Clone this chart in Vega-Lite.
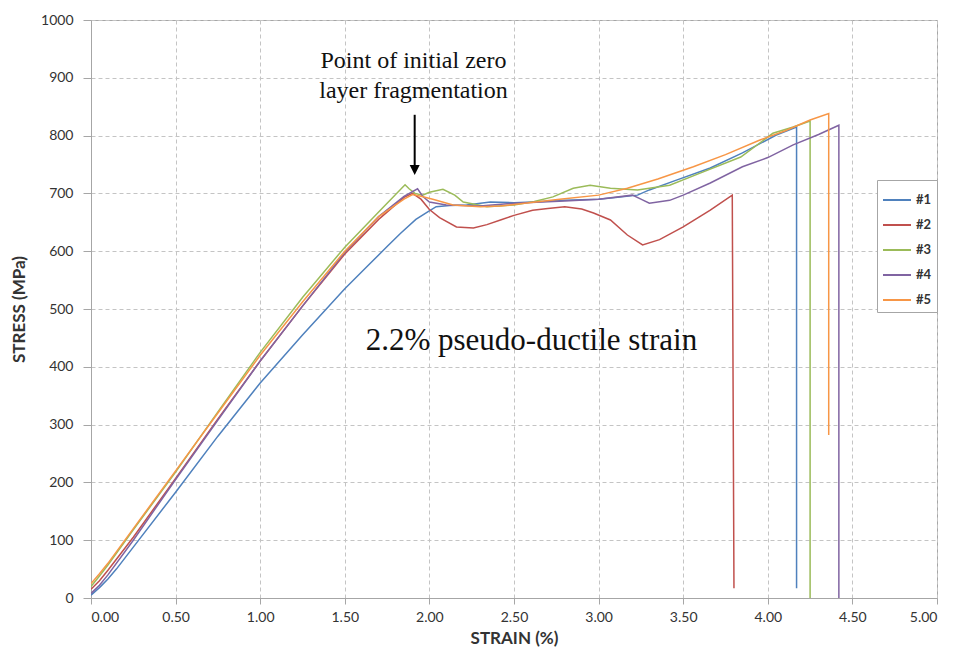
{
  "$schema": "https://vega.github.io/schema/vega-lite/v6.json",
  "width": 846,
  "height": 578,
  "autosize": {"type": "none"},
  "padding": {"left": 91, "top": 20, "right": 20, "bottom": 55},
  "background": "white",
  "config": {
    "view": {"stroke": "#a6a6a6", "strokeWidth": 1},
    "axis": {
      "labelFont": "Lato",
      "labelFontSize": 14,
      "labelColor": "#333333",
      "titleFont": "Lato",
      "titleFontSize": 17,
      "titleFontWeight": "bold",
      "titleColor": "#333333",
      "domainColor": "#a6a6a6",
      "tickColor": "#a6a6a6",
      "gridColor": "#c4c4c4",
      "gridDash": [4, 3],
      "gridWidth": 1
    }
  },
  "datasets": {
    "curves": [
      {"s":"#1","i":0,"x":0,"y":5},{"s":"#1","i":1,"x":0.05,"y":18},{"s":"#1","i":2,"x":0.1,"y":33},{"s":"#1","i":3,"x":0.15,"y":50},{"s":"#1","i":4,"x":0.25,"y":88},{"s":"#1","i":5,"x":0.5,"y":183},{"s":"#1","i":6,"x":0.75,"y":280},{"s":"#1","i":7,"x":1.0,"y":372},{"s":"#1","i":8,"x":1.25,"y":455},{"s":"#1","i":9,"x":1.5,"y":535},{"s":"#1","i":10,"x":1.63,"y":573},{"s":"#1","i":11,"x":1.75,"y":608},{"s":"#1","i":12,"x":1.83,"y":631},{"s":"#1","i":13,"x":1.92,"y":655},{"s":"#1","i":14,"x":1.99,"y":668},{"s":"#1","i":15,"x":2.04,"y":677},{"s":"#1","i":16,"x":2.12,"y":679},{"s":"#1","i":17,"x":2.22,"y":680},{"s":"#1","i":18,"x":2.36,"y":685},{"s":"#1","i":19,"x":2.5,"y":684},{"s":"#1","i":20,"x":2.61,"y":685},{"s":"#1","i":21,"x":2.8,"y":688},{"s":"#1","i":22,"x":3.0,"y":690},{"s":"#1","i":23,"x":3.1,"y":693},{"s":"#1","i":24,"x":3.23,"y":697},{"s":"#1","i":25,"x":3.3,"y":706},{"s":"#1","i":26,"x":3.46,"y":723},{"s":"#1","i":27,"x":3.66,"y":744},{"s":"#1","i":28,"x":3.85,"y":770},{"s":"#1","i":29,"x":4.05,"y":801},{"s":"#1","i":30,"x":4.17,"y":815},{"s":"#1","i":31,"x":4.17,"y":17},
      {"s":"#2","i":0,"x":0,"y":15},{"s":"#2","i":1,"x":0.05,"y":30},{"s":"#2","i":2,"x":0.1,"y":48},{"s":"#2","i":3,"x":0.25,"y":105},{"s":"#2","i":4,"x":0.5,"y":207},{"s":"#2","i":5,"x":0.75,"y":310},{"s":"#2","i":6,"x":1.0,"y":410},{"s":"#2","i":7,"x":1.25,"y":505},{"s":"#2","i":8,"x":1.5,"y":595},{"s":"#2","i":9,"x":1.7,"y":655},{"s":"#2","i":10,"x":1.85,"y":693},{"s":"#2","i":11,"x":1.9,"y":700},{"s":"#2","i":12,"x":1.95,"y":690},{"s":"#2","i":13,"x":2.0,"y":672},{"s":"#2","i":14,"x":2.06,"y":658},{"s":"#2","i":15,"x":2.16,"y":642},{"s":"#2","i":16,"x":2.26,"y":640},{"s":"#2","i":17,"x":2.34,"y":646},{"s":"#2","i":18,"x":2.42,"y":654},{"s":"#2","i":19,"x":2.5,"y":662},{"s":"#2","i":20,"x":2.61,"y":671},{"s":"#2","i":21,"x":2.7,"y":674},{"s":"#2","i":22,"x":2.8,"y":677},{"s":"#2","i":23,"x":2.9,"y":673},{"s":"#2","i":24,"x":2.97,"y":666},{"s":"#2","i":25,"x":3.07,"y":654},{"s":"#2","i":26,"x":3.17,"y":628},{"s":"#2","i":27,"x":3.26,"y":611},{"s":"#2","i":28,"x":3.36,"y":620},{"s":"#2","i":29,"x":3.5,"y":642},{"s":"#2","i":30,"x":3.66,"y":671},{"s":"#2","i":31,"x":3.79,"y":697},{"s":"#2","i":32,"x":3.8,"y":17},
      {"s":"#3","i":0,"x":0,"y":20},{"s":"#3","i":1,"x":0.05,"y":38},{"s":"#3","i":2,"x":0.1,"y":57},{"s":"#3","i":3,"x":0.25,"y":118},{"s":"#3","i":4,"x":0.5,"y":218},{"s":"#3","i":5,"x":0.75,"y":322},{"s":"#3","i":6,"x":1.0,"y":425},{"s":"#3","i":7,"x":1.25,"y":520},{"s":"#3","i":8,"x":1.5,"y":607},{"s":"#3","i":9,"x":1.7,"y":668},{"s":"#3","i":10,"x":1.856,"y":715},{"s":"#3","i":11,"x":1.88,"y":708},{"s":"#3","i":12,"x":1.915,"y":700},{"s":"#3","i":13,"x":1.96,"y":697},{"s":"#3","i":14,"x":2.0,"y":702},{"s":"#3","i":15,"x":2.08,"y":707},{"s":"#3","i":16,"x":2.15,"y":697},{"s":"#3","i":17,"x":2.2,"y":685},{"s":"#3","i":18,"x":2.34,"y":677},{"s":"#3","i":19,"x":2.5,"y":680},{"s":"#3","i":20,"x":2.62,"y":686},{"s":"#3","i":21,"x":2.73,"y":694},{"s":"#3","i":22,"x":2.85,"y":709},{"s":"#3","i":23,"x":2.95,"y":714},{"s":"#3","i":24,"x":3.07,"y":709},{"s":"#3","i":25,"x":3.23,"y":706},{"s":"#3","i":26,"x":3.42,"y":714},{"s":"#3","i":27,"x":3.6,"y":735},{"s":"#3","i":28,"x":3.84,"y":763},{"s":"#3","i":29,"x":4.03,"y":804},{"s":"#3","i":30,"x":4.15,"y":815},{"s":"#3","i":31,"x":4.25,"y":825},{"s":"#3","i":32,"x":4.25,"y":0},
      {"s":"#4","i":0,"x":0,"y":8},{"s":"#4","i":1,"x":0.05,"y":22},{"s":"#4","i":2,"x":0.1,"y":40},{"s":"#4","i":3,"x":0.25,"y":100},{"s":"#4","i":4,"x":0.5,"y":205},{"s":"#4","i":5,"x":0.75,"y":308},{"s":"#4","i":6,"x":1.0,"y":410},{"s":"#4","i":7,"x":1.25,"y":505},{"s":"#4","i":8,"x":1.5,"y":598},{"s":"#4","i":9,"x":1.7,"y":660},{"s":"#4","i":10,"x":1.85,"y":695},{"s":"#4","i":11,"x":1.93,"y":708},{"s":"#4","i":12,"x":1.96,"y":695},{"s":"#4","i":13,"x":2.0,"y":685},{"s":"#4","i":14,"x":2.1,"y":680},{"s":"#4","i":15,"x":2.3,"y":678},{"s":"#4","i":16,"x":2.5,"y":683},{"s":"#4","i":17,"x":2.8,"y":687},{"s":"#4","i":18,"x":3.0,"y":690},{"s":"#4","i":19,"x":3.2,"y":697},{"s":"#4","i":20,"x":3.25,"y":690},{"s":"#4","i":21,"x":3.3,"y":683},{"s":"#4","i":22,"x":3.42,"y":688},{"s":"#4","i":23,"x":3.5,"y":697},{"s":"#4","i":24,"x":3.66,"y":718},{"s":"#4","i":25,"x":3.85,"y":746},{"s":"#4","i":26,"x":4.0,"y":762},{"s":"#4","i":27,"x":4.15,"y":784},{"s":"#4","i":28,"x":4.3,"y":802},{"s":"#4","i":29,"x":4.42,"y":818},{"s":"#4","i":30,"x":4.42,"y":0},
      {"s":"#5","i":0,"x":0,"y":25},{"s":"#5","i":1,"x":0.05,"y":42},{"s":"#5","i":2,"x":0.1,"y":60},{"s":"#5","i":3,"x":0.25,"y":120},{"s":"#5","i":4,"x":0.5,"y":220},{"s":"#5","i":5,"x":0.75,"y":320},{"s":"#5","i":6,"x":1.0,"y":420},{"s":"#5","i":7,"x":1.25,"y":512},{"s":"#5","i":8,"x":1.5,"y":600},{"s":"#5","i":9,"x":1.7,"y":660},{"s":"#5","i":10,"x":1.85,"y":690},{"s":"#5","i":11,"x":1.9,"y":698},{"s":"#5","i":12,"x":1.95,"y":695},{"s":"#5","i":13,"x":2.02,"y":690},{"s":"#5","i":14,"x":2.14,"y":680},{"s":"#5","i":15,"x":2.3,"y":677},{"s":"#5","i":16,"x":2.42,"y":678},{"s":"#5","i":17,"x":2.5,"y":681},{"s":"#5","i":18,"x":2.77,"y":690},{"s":"#5","i":19,"x":3.0,"y":697},{"s":"#5","i":20,"x":3.17,"y":709},{"s":"#5","i":21,"x":3.35,"y":725},{"s":"#5","i":22,"x":3.56,"y":746},{"s":"#5","i":23,"x":3.75,"y":767},{"s":"#5","i":24,"x":3.95,"y":792},{"s":"#5","i":25,"x":4.1,"y":808},{"s":"#5","i":26,"x":4.25,"y":827},{"s":"#5","i":27,"x":4.36,"y":838},{"s":"#5","i":28,"x":4.36,"y":282}
    ],
    "arrow": [{"x": 1.913, "top": 836, "base": 749, "tip": 732}],
    "note_top": [
      {"t": "Point of initial zero", "x": 1.906, "y": 917},
      {"t": "layer fragmentation", "x": 1.906, "y": 865}
    ],
    "note_mid": [{"t": "2.2% pseudo-ductile strain", "x": 2.603, "y": 429}]
  },
  "layer": [
    {
      "data": {"name": "curves"},
      "mark": {"type": "line", "strokeWidth": 1.5, "clip": true},
      "encoding": {
        "x": {
          "field": "x", "type": "quantitative",
          "scale": {"domain": [0, 5], "nice": false, "zero": true},
          "axis": {
            "title": "STRAIN (%)",
            "values": [0, 0.5, 1, 1.5, 2, 2.5, 3, 3.5, 4, 4.5, 5],
            "format": ".2f",
            "tickSize": 6,
            "labelPadding": 6,
            "titlePadding": 6
          }
        },
        "y": {
          "field": "y", "type": "quantitative",
          "scale": {"domain": [0, 1000], "nice": false},
          "axis": {
            "title": "STRESS (MPa)",
            "values": [0, 100, 200, 300, 400, 500, 600, 700, 800, 900, 1000],
            "format": "d",
            "tickSize": 8,
            "labelPadding": 10,
            "titlePadding": 12
          }
        },
        "color": {
          "field": "s", "type": "nominal",
          "scale": {
            "domain": ["#1", "#2", "#3", "#4", "#5"],
            "range": ["#4f81bd", "#c0504d", "#9bbb59", "#8064a2", "#f79646"]
          },
          "legend": {
            "title": null,
            "orient": "none",
            "legendX": 786,
            "legendY": 160,
            "symbolType": "stroke",
            "symbolSize": 784,
            "symbolStrokeWidth": 2,
            "labelFont": "Lato",
            "labelFontSize": 13,
            "labelFontWeight": "bold",
            "labelColor": "#333333",
            "labelOffset": 4,
            "rowPadding": 3,
            "padding": 5,
            "strokeColor": "#a6a6a6",
            "fillColor": "white"
          }
        },
        "order": {"field": "i", "type": "quantitative"}
      }
    },
    {
      "data": {"name": "arrow"},
      "mark": {"type": "rule", "color": "black", "strokeWidth": 2},
      "encoding": {
        "x": {"field": "x", "type": "quantitative"},
        "y": {"field": "top", "type": "quantitative"},
        "y2": {"field": "base"}
      }
    },
    {
      "data": {"name": "arrow"},
      "mark": {"type": "point", "shape": "M-0.5,-1L0.5,-1L0,0Z", "filled": true, "color": "black", "opacity": 1, "size": 400, "strokeWidth": 0},
      "encoding": {
        "x": {"field": "x", "type": "quantitative"},
        "y": {"field": "tip", "type": "quantitative"}
      }
    },
    {
      "data": {"name": "note_top"},
      "mark": {"type": "text", "font": "Liberation Serif", "fontSize": 24, "color": "#111111", "align": "center", "baseline": "alphabetic"},
      "encoding": {
        "x": {"field": "x", "type": "quantitative"},
        "y": {"field": "y", "type": "quantitative"},
        "text": {"field": "t"}
      }
    },
    {
      "data": {"name": "note_mid"},
      "mark": {"type": "text", "font": "Liberation Serif", "fontSize": 31, "color": "#111111", "align": "center", "baseline": "alphabetic"},
      "encoding": {
        "x": {"field": "x", "type": "quantitative"},
        "y": {"field": "y", "type": "quantitative"},
        "text": {"field": "t"}
      }
    }
  ]
}
